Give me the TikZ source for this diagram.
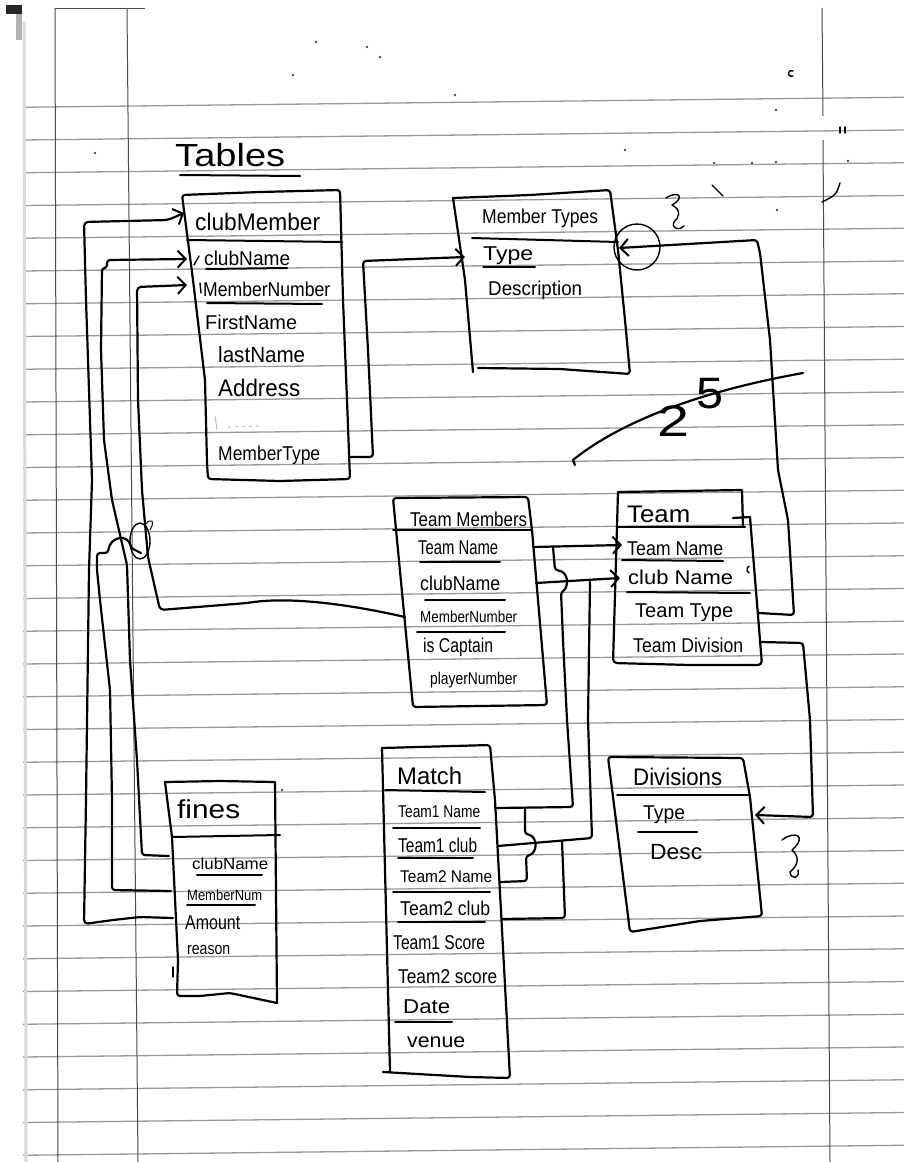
\documentclass[tikz,border=0pt]{standalone}
\usepackage{fontspec}
\setmainfont{Liberation Sans}
\usepackage{graphicx}
\usetikzlibrary{arrows.meta}
\newsavebox\hwbox
\newcommand\hwt[3][20]{\sbox\hwbox{\fontsize{#1}{#1}\selectfont #3}\scalebox{\fpeval{(#2pt)/(\wd\hwbox)}}[1]{\usebox\hwbox}}
\begin{document}
\begin{tikzpicture}[x=1pt,y=-1pt,
  pen/.style={line width=2.2pt, line cap=round, line join=round},
  thinpen/.style={line width=1.4pt, line cap=round, line join=round},
  rule/.style={line width=1.3pt, draw=black!40},
  margin/.style={line width=1pt, draw=black!70},
  lbl/.style={inner sep=0pt, anchor=west},
  arr/.style={pen, -{Straight Barb[length=8pt,width=17pt,line width=2pt]}},
  ul/.style={line width=2pt, line cap=round}]
\useasboundingbox (0,0) rectangle (904,1162);
\fill[white] (0,0) rectangle (904,1162);

% ---- paper ----
\foreach \k in {0,...,32} {
  \pgfmathsetmacro\yy{102.25+32.75*\k}
  \draw[rule] (23,\yy+5) -- (904,\yy-5);
}
\draw[line width=3pt, draw=black!15] (24,22) -- (26,1162);
\fill[black!85] (6,5) rectangle (22,14);
\fill[black!30] (16,14) rectangle (22,40);
\draw[margin] (55,8) -- (58,1162);
\draw[margin] (55,8) -- (145,8);
\draw[margin] (127,8) -- (138,1162);
\draw[margin] (822,8) -- (823,116);
\draw[margin] (823,140) -- (830,1162);

% stray marks
\foreach \p in {(95,153),(625,150),(777,210),(714,163),(752,163),(776,162),(848,161),(293,75),(316,42),(367,47),(380,57),(776,110),(282,790),(455,95)}
  \fill[black!70] \p circle (1.3);
\draw[thinpen] (793,76) arc (60:300:3);
\draw[thinpen] (840,127) -- (840,133); \draw[thinpen] (845,127) -- (845,133);
\draw[thinpen] (712,185) -- (723,196);
\draw[thinpen] (840,183) .. controls (836,195) .. (822,202);
\draw[thinpen] (666,198) .. controls (678,190) and (686,197) .. (672,205) .. controls (682,210) and (679,218) .. (674,222) .. controls (671,229) and (680,231) .. (684,226);
\draw[thinpen] (782,840) .. controls (795,830) and (808,836) .. (792,850) .. controls (801,858) and (797,866) .. (790,872) .. controls (791,880) and (800,879) .. (798,870);

% ---- title ----
\node[lbl] (tables) at (175,155) {\hwt[32]{110}{Tables}};
\draw[ul] (180,175) -- (300,176);

% ---- clubMember ----
\draw[pen, rounded corners=3pt] (182,195) -- (260,192) -- (340,190) -- (343,300) -- (347,400) -- (350,479) -- (280,481) -- (208,479) -- (207,463) -- (205,380) -- (193,280) -- cycle;
\draw[ul] (187,240) -- (342,242);
\node[lbl] (cmTitle) at (195,222) {\hwt[24]{125}{clubMember}};
\node[lbl] (cmClub) at (204,258) {\hwt{86}{clubName}};
\draw[ul] (206,269) -- (287,268);
\node[lbl] (cmNum) at (203,289) {\hwt{127}{MemberNumber}};
\draw[ul] (207,303) -- (322,304);
\node[lbl] (cmFirst) at (205,322) {\hwt{92}{FirstName}};
\node[lbl] (cmLast) at (218,355) {\hwt[22]{87}{lastName}};
\node[lbl] (cmAddr) at (218,388) {\hwt[24]{82}{Address}};
\node[lbl] (cmMType) at (218,455) {\hwt{102}{MemberType}};
\draw[thinpen] (194,265) -- (199,256);
\draw[thinpen] (200,283) -- (201,293);
\draw[line width=1pt, black!25] (215,416) -- (217,430);
\draw[line width=1pt, black!25, dash pattern=on 3pt off 4pt] (228,427) -- (262,426);

% ---- Member Types ----
\draw[pen, rounded corners=3pt] (453,198) -- (530,195) -- (610,190) -- (618,250) -- (625,320) -- (630,374) -- (560,369) -- (478,368);
\draw[pen] (453,198) -- (465,280) -- (473,372);
\draw[ul] (472,238) -- (618,242);
\node[lbl] (mtTitle) at (482,218) {\hwt{116}{Member Types}};
\node[lbl] (mtType) at (483,256) {\hwt{50}{Type}};
\draw[ul] (483,267) -- (535,267);
\node[lbl] (mtDesc) at (488,290) {\hwt{94}{Description}};

% ---- Team Members ----
\draw[pen, rounded corners=3pt] (393,498) -- (528,497) -- (532,530) -- (547,705) -- (413,707) -- cycle;
\draw[ul] (393,530) -- (532,530);
\node[lbl] (tmTitle) at (410,519) {\hwt{117}{Team Members}};
\node[lbl] (tmTName) at (418,548) {\hwt{80}{Team Name}};
\draw[ul] (420,562) -- (500,562);
\node[lbl] (tmClub) at (420,583) {\hwt{80}{clubName}};
\draw[ul] (425,600) -- (505,600);
\node[lbl] (tmNum) at (420,617) {\hwt[16]{97}{MemberNumber}};
\draw[ul] (417,632) -- (505,632);
\node[lbl] (tmCap) at (423,647) {\hwt{70}{is Captain}};
\node[lbl] (tmPlayer) at (430,680) {\hwt[17]{87}{playerNumber}};

% ---- Team ----
\draw[pen] (618,492) -- (742,490) -- (743,527);
\draw[ul] (618,527) -- (745,527);
\draw[pen] (733,518) -- (750,517);
\draw[pen, rounded corners=4pt] (618,492) -- (613,663) -- (690,665) -- (762,665) -- (750,517);
\node[lbl] (tTitle) at (627,514) {\hwt[24]{63}{Team}};
\node[lbl] (tTName) at (627,549) {\hwt{96}{Team Name}};
\draw[ul] (622,560) -- (723,561);
\node[lbl] (tClub) at (628,577) {\hwt{105}{club Name}};
\draw[ul] (627,592) -- (750,593);
\draw[thinpen] (749,573) arc (-60:60:-4);
\node[lbl] (tTType) at (635,613) {\hwt{98}{Team Type}};
\node[lbl] (tDiv) at (633,645) {\hwt{110}{Team Division}};

% ---- Divisions ----
\draw[pen, rounded corners=3pt] (608,757) -- (743,758) -- (750,797) -- (762,916) -- (700,921) -- (630,932) -- cycle;
\draw[ul] (617,795) -- (750,795);
\node[lbl] (dvTitle) at (633,777) {\hwt[24]{89}{Divisions}};
\node[lbl] (dvType) at (643,815) {\hwt{42}{Type}};
\draw[ul] (638,832) -- (697,832);
\node[lbl] (dvDesc) at (650,852) {\hwt[22]{52}{Desc}};

% ---- Match ----
\draw[pen, rounded corners=3pt] (382,748) -- (490,745) -- (495,800) -- (510,1078) -- (470,1077) -- (383,1072);
\draw[pen] (382,748) -- (390,1072);
\draw[ul] (385,790) -- (485,792);
\node[lbl] (mTitle) at (397,776) {\hwt[24]{65}{Match}};
\node[lbl] (mT1N) at (398,812) {\hwt[17]{82}{Team1 Name}};
\draw[ul] (393,828) -- (480,828);
\node[lbl] (mT1C) at (398,845) {\hwt{79}{Team1 club}};
\draw[ul] (398,858) -- (473,858);
\node[lbl] (mT2N) at (400,877) {\hwt[17]{92}{Team2 Name}};
\draw[ul] (393,892) -- (490,892);
\node[lbl] (mT2C) at (400,908) {\hwt{90}{Team2 club}};
\draw[ul] (398,922) -- (485,922);
\node[lbl] (mS1) at (393,943) {\hwt{92}{Team1 Score}};
\node[lbl] (mS2) at (398,977) {\hwt{99}{Team2 score}};
\node[lbl] (mDate) at (403,1007) {\hwt{47}{Date}};
\draw[ul] (395,1022) -- (452,1022);
\node[lbl] (mVenue) at (407,1042) {\hwt{58}{venue}};

% ---- fines ----
\draw[pen] (165,782) -- (220,781) -- (275,782) -- (277,1003);
\draw[pen, rounded corners=3pt] (165,782) -- (172,837) -- (178,960) -- (177,996) -- (200,996) -- (230,993) -- (277,1003);
\draw[thinpen] (173,967) -- (173,977);
\draw[ul] (172,837) -- (280,835);
\node[lbl] (fTitle) at (177,809) {\hwt[26]{63}{fines}};
\node[lbl] (fClub) at (192,864) {\hwt[16]{76}{clubName}};
\draw[ul] (197,875) -- (262,875);
\node[lbl] (fNum) at (187,895) {\hwt[15]{75}{MemberNum}};
\draw[ul] (187,905) -- (255,905);
\node[lbl] (fAmt) at (185,923) {\hwt{55}{Amount}};
\node[lbl] (fReason) at (187,950) {\hwt[17]{43}{reason}};

% ---- scribble 25 ----
\draw[pen] (575,465) -- (573,460) .. controls (610,430) and (680,395) .. (803,373);
\node[inner sep=0pt] (n2) at (673,421) {\hwt[44]{32}{2}};
\node[inner sep=0pt] (n5) at (710,394) {\hwt[44]{27}{5}};

% ---- connection points ----
\coordinate (fAmtW) at (173,918);
\coordinate (fClubW) at (169,856);
\coordinate (fNumW) at (171,891);
\coordinate (cmTitleW) at (184,213);
\coordinate (cmClubW) at (187,259);
\coordinate (cmNumW) at (187,285);
\coordinate (cmTypeE) at (349,457);
\coordinate (mtTypeW) at (465,257);
\coordinate (mtTypeE) at (619,248);
\coordinate (tmNumW) at (405,617);
\coordinate (tmTNameE) at (533,547);
\coordinate (tmClubE) at (536,583);
\coordinate (tTNameW) at (622,545);
\coordinate (tClubW) at (620,578);
\coordinate (tTypeE) at (759,613);
\coordinate (tDivE) at (761,642);
\coordinate (dvTypeE) at (755,815);
\coordinate (mT1NameE) at (495,808);
\coordinate (mT1ClubE) at (498,846);
\coordinate (mT2NameE) at (500,882);
\coordinate (mT2ClubE) at (502,919);
\coordinate (jC) at (141,553);
\coordinate (jH) at (553,547);
\coordinate (jI) at (590,582);
\coordinate (jJ) at (525,808);
\coordinate (jK) at (562,841);

% ---- connectors ----
\draw[arr, rounded corners=4pt] (fAmtW) -- (140,917) -- (113,920) -- (84,924) -- (86,800) -- (89,570) -- (92,480) -- (86,300) -- (84,222) -- (168,220) -- (cmTitleW);
\draw[arr, rounded corners=3pt] (fClubW) -- (142,855) -- (137,760) -- (130,660) -- (127,565) -- (112,500) -- (104,440) -- (101,350) -- (102,268) -- (107,268) -- (107,260) -- (cmClubW);
\draw[arr, rounded corners=4pt] (tmNumW) .. controls (330,600) and (280,598) .. (247,603) -- (160,610) -- (148,557) -- (142,490) -- (138,400) -- (137,287) -- (cmNumW);
\draw[pen, rounded corners=3pt] (fNumW) -- (112,890) -- (112,800) -- (110,690) -- (100,600) -- (97,570) -- (97,553) -- (108,553) .. controls (110,536) and (128,534) .. (131,548) -- (jC);
\draw[thinpen] (140,541) ellipse (10 and 18);
\draw[line width=1pt] (146,524) .. controls (150,518) and (156,520) .. (150,530);
\draw[arr, rounded corners=3pt] (cmTypeE) -- (373,457) -- (368,350) -- (363,261) -- (mtTypeW);
\draw[arr, rounded corners=3pt] (tTypeE) -- (794,615) -- (788,520) -- (778,470) -- (770,340) -- (760,253) -- (757,240) -- (mtTypeE);
\draw[thinpen] (637,247) circle (23);
\draw[arr, rounded corners=3pt] (tDivE) -- (803,643) -- (810,720) -- (813,817) -- (dvTypeE);
\draw[arr] (tmTNameE) -- (tTNameW);
\draw[arr] (tmClubE) -- (tClubW);
\draw[pen, rounded corners=3pt] (mT1NameE) -- (573,807) -- (567,720) -- (563,640) -- (561,592) .. controls (568,588) and (570,572) .. (555,570) -- (jH);
\draw[pen, rounded corners=3pt] (mT1ClubE) -- (592,838) -- (588,720) -- (jI);
\draw[pen, rounded corners=3pt] (mT2NameE) -- (527,881) -- (526,856) .. controls (538,853) and (538,836) .. (525,834) -- (jJ);
\draw[pen, rounded corners=3pt] (mT2ClubE) -- (565,918) -- (jK);
\end{tikzpicture}
\end{document}
